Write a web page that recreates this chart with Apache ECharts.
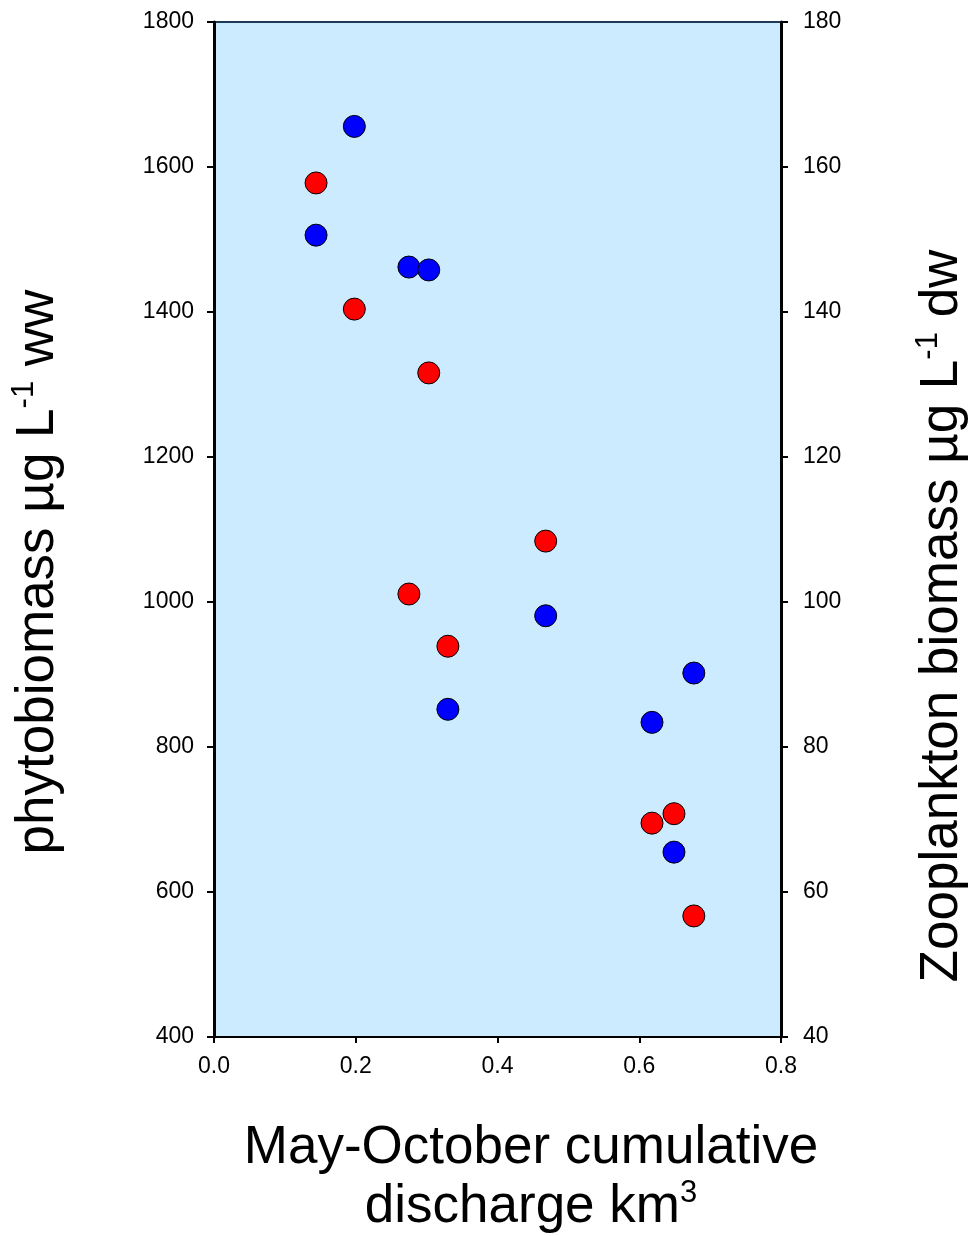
<!DOCTYPE html>
<html>
<head>
<meta charset="utf-8">
<script src="https://cdn.jsdelivr.net/npm/echarts@6/dist/echarts.min.js"></script>
<style>
  html, body { margin: 0; padding: 0; background: #fff; }
  #chart { width: 971px; height: 1236px; }
</style>
</head>
<body>
<div id="chart"></div>
<script>
// discharge (x) and biomass values
const phytoX = [0.198, 0.144, 0.275, 0.303, 0.468, 0.330, 0.677, 0.618, 0.649]
const phytoY = [1656, 1506, 1462, 1458, 981, 852, 902, 834, 655]
const zooX = [0.144, 0.198, 0.303, 0.468, 0.275, 0.330, 0.649, 0.618, 0.677]
const zooY = [157.8, 140.4, 131.6, 108.4, 101.1, 93.9, 70.8, 69.5, 56.7]
const xTicks = [0, 0.2, 0.4, 0.6, 0.8]

const font = 'Liberation Sans, Arial, sans-serif'
const myChart = echarts.init(document.getElementById('chart'))

const pairs = (xs, ys) => xs.map((x, i) => [x, ys[i]])

const axisCommon = {
  axisLine: { show: true, lineStyle: { color: '#000', width: 3 } },
  axisTick: { show: true, inside: false, length: 7, lineStyle: { color: '#000', width: 2 } },
  axisLabel: { color: '#000', fontSize: 23, fontFamily: font, margin: 20, formatter: v => String(v) },
  splitLine: { show: false }
}

const titleRich = {
  n: { fontSize: 53, fontFamily: font, color: '#000', lineHeight: 58 },
  s: { fontSize: 31, fontFamily: font, color: '#000', lineHeight: 58, verticalAlign: 'top' }
}

const option = {
  animation: false,
  grid: {
    left: 214, right: 190, top: 22, bottom: 199,
    show: true, backgroundColor: '#ccebff', borderColor: '#1c3a56', borderWidth: 2
  },
  xAxis: {
    type: 'value', min: 0, max: 0.8, interval: 0.2,
    ...axisCommon,
    axisLine: { show: true, onZero: false, lineStyle: { color: '#000', width: 2 } },
    axisTick: { show: true, length: 6, lineStyle: { color: '#000', width: 2 } },
    axisLabel: {
      color: '#000', fontSize: 23, fontFamily: font, margin: 18,
      formatter: v => xTicks.includes(+v.toFixed(1)) ? v.toFixed(1) : ''
    }
  },
  yAxis: [
    { type: 'value', min: 400, max: 1800, interval: 200, position: 'left', ...axisCommon },
    { type: 'value', min: 40, max: 180, interval: 20, position: 'right', ...axisCommon,
      axisLabel: { color: '#000', fontSize: 23, fontFamily: font, margin: 22, formatter: v => String(v) } }
  ],
  graphic: [
    {
      type: 'text', x: 38, y: 572, rotation: Math.PI / 2,
      style: {
        text: '{n|phytobiomass µg L}{s|-1}{n| ww}', rich: titleRich,
        align: 'center', verticalAlign: 'middle'
      }
    },
    {
      type: 'text', x: 942, y: 616, rotation: Math.PI / 2,
      style: {
        text: '{n|Zooplankton biomass µg L}{s|-1}{n| dw}', rich: titleRich,
        align: 'center', verticalAlign: 'middle'
      }
    },
    {
      type: 'text', x: 531, y: 1148,
      style: {
        text: '{n|May-October cumulative}', rich: titleRich,
        align: 'center', verticalAlign: 'middle'
      }
    },
    {
      type: 'text', x: 531, y: 1207,
      style: {
        text: '{n|discharge km}{s|3}', rich: titleRich,
        align: 'center', verticalAlign: 'middle'
      }
    }
  ],
  series: [
    {
      name: 'phytoplankton', type: 'scatter', yAxisIndex: 0,
      data: pairs(phytoX, phytoY), symbolSize: 22,
      itemStyle: { color: '#0000ff', borderColor: '#000', borderWidth: 1, opacity: 1 }
    },
    {
      name: 'zooplankton', type: 'scatter', yAxisIndex: 1,
      data: pairs(zooX, zooY), symbolSize: 22,
      itemStyle: { color: '#ff0000', borderColor: '#000', borderWidth: 1, opacity: 1 }
    }
  ]
}

myChart.setOption(option)
</script>
</body>
</html>
